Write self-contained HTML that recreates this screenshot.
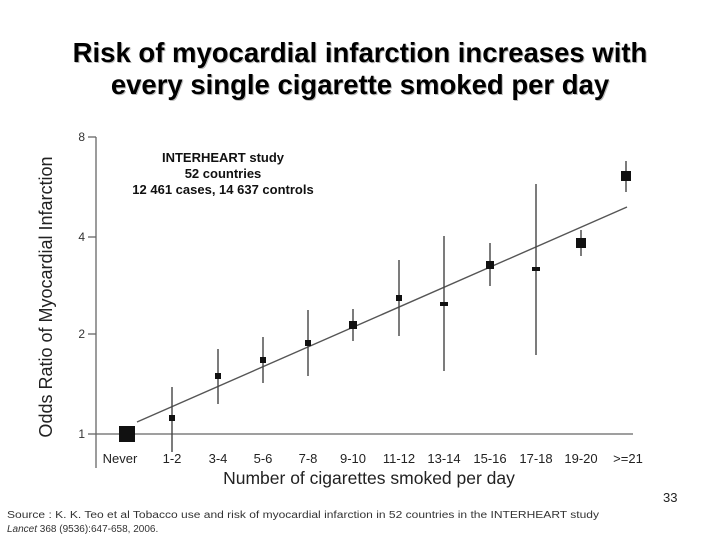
<!DOCTYPE html>
<html><head><meta charset="utf-8"><style>
html,body{margin:0;padding:0;background:#fff;}
svg{display:block;}
</style></head><body>
<svg width="720" height="540" viewBox="0 0 720 540" xmlns="http://www.w3.org/2000/svg" font-family="Liberation Sans, Arial, sans-serif">
<g font-size="27.5" font-weight="bold" text-anchor="middle">
<text x="361" y="63" fill="#bbb">Risk of myocardial infarction increases with</text>
<text x="361" y="95" fill="#bbb">every single cigarette smoked per day</text>
<text x="360" y="62" fill="#000">Risk of myocardial infarction increases with</text>
<text x="360" y="94" fill="#000">every single cigarette smoked per day</text>
</g>
<g stroke="#666" stroke-width="1.3" fill="none">
<line x1="96" y1="137" x2="96" y2="468"/>
<line x1="96" y1="434" x2="633" y2="434"/>
<line x1="88" y1="137" x2="96" y2="137"/>
<line x1="88" y1="237" x2="96" y2="237"/>
<line x1="88" y1="334" x2="96" y2="334"/>
<line x1="88" y1="434" x2="96" y2="434"/>
</g>
<g font-size="12" fill="#333" text-anchor="end">
<text x="85" y="141">8</text><text x="85" y="241">4</text><text x="85" y="338">2</text><text x="85" y="438">1</text>
</g>
<text transform="translate(52,297) rotate(-90)" font-size="18" fill="#222" text-anchor="middle">Odds Ratio of Myocardial Infarction</text>
<g font-size="13" font-weight="bold" fill="#111" text-anchor="middle">
<text x="223" y="162">INTERHEART study</text>
<text x="223" y="178">52 countries</text>
<text x="223" y="194">12 461 cases, 14 637 controls</text>
</g>
<line x1="137" y1="422" x2="627" y2="207" stroke="#555" stroke-width="1.4"/>
<g stroke="#444" stroke-width="1.4">
<line x1="172" y1="387" x2="172" y2="452"/>
<line x1="218" y1="349" x2="218" y2="404"/>
<line x1="263" y1="337" x2="263" y2="383"/>
<line x1="308" y1="310" x2="308" y2="376"/>
<line x1="353" y1="309" x2="353" y2="341"/>
<line x1="399" y1="260" x2="399" y2="336"/>
<line x1="444" y1="236" x2="444" y2="371"/>
<line x1="490" y1="243" x2="490" y2="286"/>
<line x1="536" y1="184" x2="536" y2="355"/>
<line x1="581" y1="230" x2="581" y2="256"/>
<line x1="626" y1="161" x2="626" y2="192"/>
</g>
<g fill="#111">
<rect x="119" y="426" width="16" height="16"/>
<rect x="169" y="415" width="6" height="6"/>
<rect x="215" y="373" width="6" height="6"/>
<rect x="260" y="357" width="6" height="6"/>
<rect x="305" y="340" width="6" height="6"/>
<rect x="349" y="321" width="8" height="8"/>
<rect x="396" y="295" width="6" height="6"/>
<rect x="440" y="302" width="8" height="4"/>
<rect x="486" y="261" width="8" height="8"/>
<rect x="532" y="267" width="8" height="4"/>
<rect x="576" y="238" width="10" height="10"/>
<rect x="621" y="171" width="10" height="10"/>
</g>
<g font-size="13" fill="#222" text-anchor="middle">
<text x="120" y="463">Never</text><text x="172" y="463">1-2</text><text x="218" y="463">3-4</text>
<text x="263" y="463">5-6</text><text x="308" y="463">7-8</text><text x="353" y="463">9-10</text>
<text x="399" y="463">11-12</text><text x="444" y="463">13-14</text><text x="490" y="463">15-16</text>
<text x="536" y="463">17-18</text><text x="581" y="463">19-20</text><text x="628" y="463">&gt;=21</text>
</g>
<text x="369" y="484" font-size="17.5" fill="#222" text-anchor="middle">Number of cigarettes smoked per day</text>
<text x="663" y="502" font-size="13" fill="#222">33</text>
<g font-size="10" fill="#333">
<text x="7" y="518" textLength="592" lengthAdjust="spacingAndGlyphs">Source : K. K. Teo et al Tobacco use and risk of myocardial infarction in 52 countries in the INTERHEART study</text>
<text x="7" y="532"><tspan font-style="italic">Lancet</tspan> 368 (9536):647-658, 2006.</text>
</g>
</svg>
</body></html>
